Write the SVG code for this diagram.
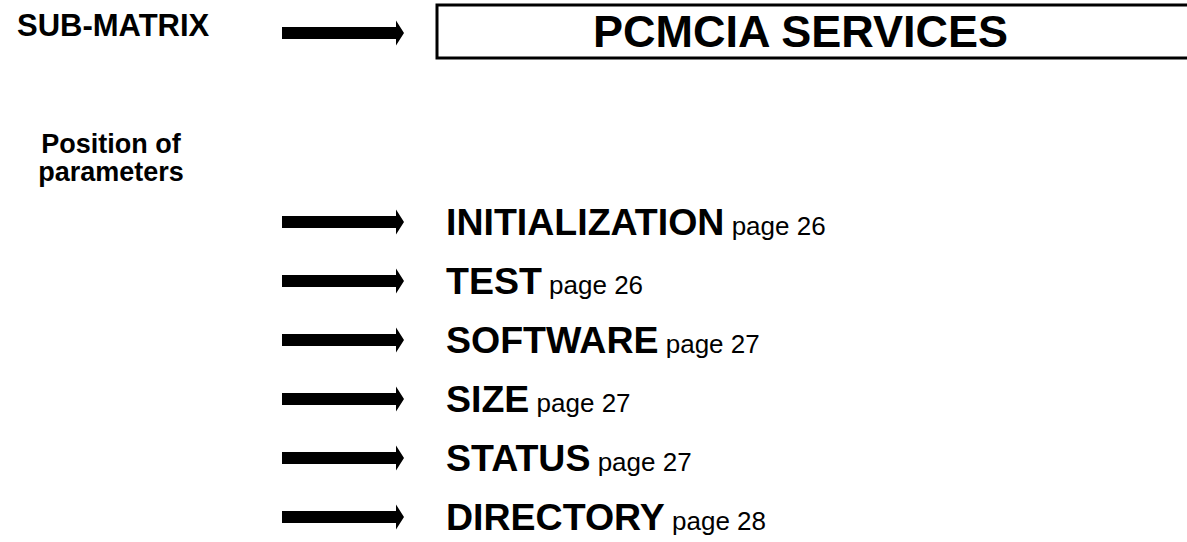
<svg xmlns="http://www.w3.org/2000/svg" xmlns:xlink="http://www.w3.org/1999/xlink" width="1187" height="542" viewBox="0 0 1187 542">
<style>
.b{font-family:"Liberation Sans",Arial,sans-serif;font-weight:bold;fill:#000}
.r{font-family:"Liberation Sans",Arial,sans-serif;font-weight:normal;fill:#000}
.lbl{font-size:37.5px}
.pg{font-size:26px}
</style>
<defs>
<path id="arr" d="M282,-6 H396 V-12.5 L404,0 L396,12.5 V6 H282 Z" fill="#000"/>
</defs>
<rect width="1187" height="542" fill="#fff"/>
<g id="submatrix"><text class="b" x="17" y="36" font-size="31">SUB-MATRIX</text></g>
<g id="pcmcia">
<rect x="437" y="5" width="800" height="53" fill="none" stroke="#000" stroke-width="3"/>
<text class="b" x="593" y="47" font-size="45">PCMCIA SERVICES</text>
</g>
<g id="position"><text class="b" font-size="27" text-anchor="middle"><tspan x="111" y="153">Position of</tspan><tspan x="111" y="181">parameters</tspan></text></g>
<g id="connectors">
<use xlink:href="#arr" transform="translate(0,33)"/>
<use xlink:href="#arr" transform="translate(0,222)"/>
<use xlink:href="#arr" transform="translate(0,281)"/>
<use xlink:href="#arr" transform="translate(0,340)"/>
<use xlink:href="#arr" transform="translate(0,399)"/>
<use xlink:href="#arr" transform="translate(0,458)"/>
<use xlink:href="#arr" transform="translate(0,517)"/>
</g>
<g id="initialization"><text x="446" y="235"><tspan class="b lbl">INITIALIZATION</tspan><tspan class="r pg"> page 26</tspan></text></g>
<g id="test"><text x="446" y="294"><tspan class="b lbl">TEST</tspan><tspan class="r pg"> page 26</tspan></text></g>
<g id="software"><text x="446" y="353"><tspan class="b lbl">SOFTWARE</tspan><tspan class="r pg"> page 27</tspan></text></g>
<g id="size"><text x="446" y="412"><tspan class="b lbl">SIZE</tspan><tspan class="r pg"> page 27</tspan></text></g>
<g id="status"><text x="446" y="471"><tspan class="b lbl">STATUS</tspan><tspan class="r pg"> page 27</tspan></text></g>
<g id="directory"><text x="446" y="530"><tspan class="b lbl">DIRECTORY</tspan><tspan class="r pg"> page 28</tspan></text></g>
</svg>
